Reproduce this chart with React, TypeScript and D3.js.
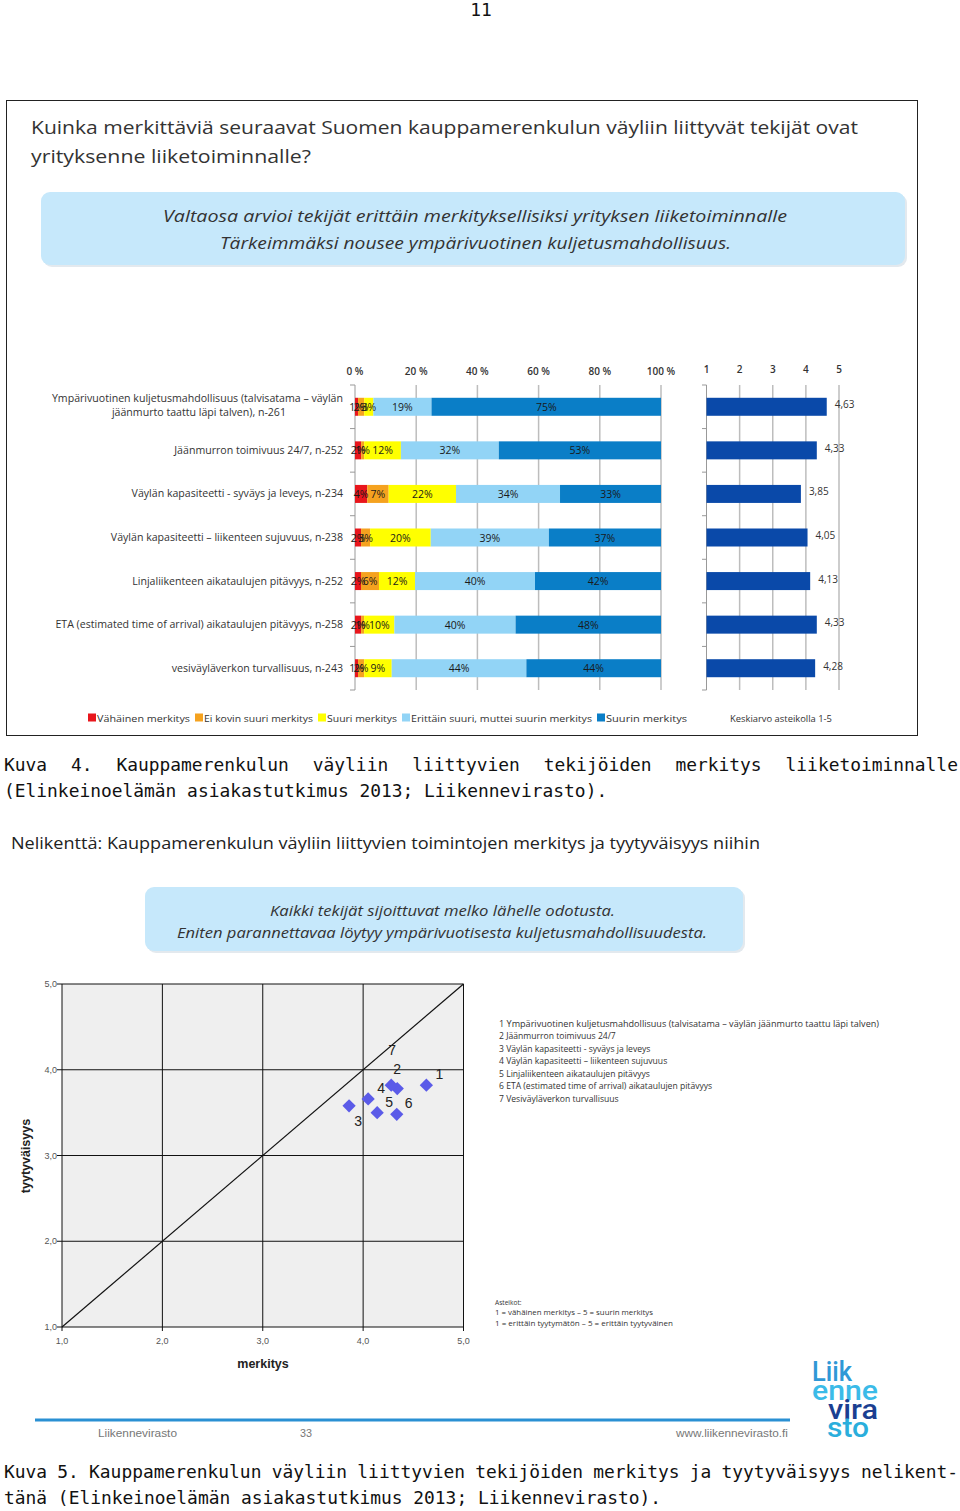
import React from 'react';
import * as d3 from 'd3';

// ---- data: chart 1 (stacked importance shares, %) ----
const factors = [
  'Ympärivuotinen kuljetusmahdollisuus (talvisatama – väylän|jäänmurto taattu läpi talven), n-261',
  'Jäänmurron toimivuus 24/7, n-252',
  'Väylän kapasiteetti - syväys ja leveys, n-234',
  'Väylän kapasiteetti – liikenteen sujuvuus, n-238',
  'Linjaliikenteen aikataulujen pitävyys, n-252',
  'ETA (estimated time of arrival) aikataulujen pitävyys, n-258',
  'vesiväyläverkon turvallisuus, n-243',
];
const vahainen = [1, 2, 4, 2, 2, 2, 1];
const eiKovin = [2, 1, 7, 3, 6, 1, 2];
const suuri = [3, 12, 22, 20, 12, 10, 9];
const erittain = [19, 32, 34, 39, 40, 40, 44];
const suurin = [75, 53, 33, 37, 42, 48, 44];
const keskiarvo = [4.63, 4.33, 3.85, 4.05, 4.13, 4.33, 4.28];

const seriesNames = [
  'Vähäinen merkitys',
  'Ei kovin suuri merkitys',
  'Suuri merkitys',
  'Erittäin suuri, muttei suurin merkitys',
  'Suurin merkitys',
];
const seriesColors = ['#e8161c', '#f5a21f', '#ffff00', '#92d4f6', '#0a7ec7'];
const pctTicks = [0, 20, 40, 60, 80, 100];
const meanTicks = [1, 2, 3, 4, 5];

// ---- data: chart 2 (scatter: importance vs satisfaction) ----
const pointIds = ['1', '2', '3', '4', '5', '6', '7'];
const merkitys = [4.63, 4.34, 3.86, 4.05, 4.14, 4.335, 4.28];
const tyytyvaisyys = [3.82, 3.78, 3.58, 3.66, 3.5, 3.48, 3.82];
const scatterTicks = [1, 2, 3, 4, 5];
const pointLegend = [
  '1 Ympärivuotinen kuljetusmahdollisuus  (talvisatama – väylän jäänmurto taattu läpi talven)',
  '2 Jäänmurron toimivuus 24/7',
  '3 Väylän kapasiteetti - syväys ja leveys',
  '4 Väylän kapasiteetti – liikenteen sujuvuus',
  '5 Linjaliikenteen aikataulujen pitävyys',
  '6 ETA (estimated time of arrival) aikataulujen pitävyys',
  '7 Vesiväyläverkon turvallisuus',
];
// label offsets (px) of the point numbers
const labelDx = [13, 0, 9, 13, 12, 12, 1];
const labelDy = [-6, -15, 20, -6, -6, -6, -30];

const SANS = '"Open Sans", "Noto Sans", sans-serif';
const MONO = '"DejaVu Sans Mono", monospace';

const MONO_SIZE = 17.9;
const MONO_ADV = MONO_SIZE * 0.602;

// justified monospace line: words spread across [x0, x1]
const Justified = ({ text, x0, x1, y }: { text: string; x0: number; x1: number; y: number }) => {
  const words = text.split(/\s+/);
  const chars = words.reduce((s, w) => s + w.length, 0);
  const gap = (x1 - x0 - chars * MONO_ADV) / (words.length - 1);
  let x = x0;
  return (
    <g>
      {words.map((w, i) => {
        const el = (
          <text key={i} x={x} y={y} fontFamily={MONO} fontSize={MONO_SIZE} fill="#111">
            {w}
          </text>
        );
        x += w.length * MONO_ADV + gap;
        return el;
      })}
    </g>
  );
};

const StackedChart = () => {
  const x = d3.scaleLinear().domain([0, 100]).range([355, 661]);
  const y = d3.scaleBand<number>().domain(d3.range(factors.length)).range([385, 690]);
  const xm = d3.scaleLinear().domain([1, 5]).range([706.5, 839]);
  const bh = 18;
  const rows = factors.map((_, i) => [vahainen[i], eiKovin[i], suuri[i], erittain[i], suurin[i]]);
  const legendX = [88, 195, 318, 402, 597];
  const legendW = [93, 109, 70, 181, 81];

  return (
    <g fontFamily={SANS}>
      {/* percent axis */}
      {pctTicks.map((t) => (
        <g key={t}>
          <text x={x(t)} y={375} textAnchor="middle" fontSize={10} fontWeight={600} fill="#333">
            {`${t} %`}
          </text>
          {t > 0 && <line x1={x(t)} x2={x(t)} y1={385} y2={690} stroke="#bdbdbd" strokeWidth={1.5} />}
        </g>
      ))}
      <line x1={355} x2={355} y1={385} y2={690} stroke="#999" />
      {d3.range(factors.length + 1).map((i) => {
        const yy = 385 + i * y.step();
        return <line key={i} x1={350} x2={355} y1={yy} y2={yy} stroke="#999" />;
      })}
      {/* bars */}
      {rows.map((vals, i) => {
        const total = d3.sum(vals);
        const cy = (y(i) as number) + y.bandwidth() / 2;
        const cum = d3.cumsum(vals);
        return (
          <g key={i}>
            {vals.map((v, k) => {
              const a = ((cum[k] - v) / total) * 100;
              const b = (cum[k] / total) * 100;
              return (
                <rect key={k} x={x(a)} y={cy - bh / 2} width={x(b) - x(a)} height={bh} fill={seriesColors[k]} />
              );
            })}
            {vals.map((v, k) => {
              const a = ((cum[k] - v) / total) * 100;
              const b = (cum[k] / total) * 100;
              return (
                <text key={k} x={x((a + b) / 2)} y={cy + 4} textAnchor="middle" fontSize={10.5} fill="#1a1a1a">
                  {`${v}%`}
                </text>
              );
            })}
            {factors[i].split('|').map((ln, j, arr) => (
              <text
                key={j}
                x={arr.length > 1 && j === 1 ? 286 : 343}
                y={cy + 3.5 + (j - (arr.length - 1) / 2) * 14 - (arr.length > 1 ? 1 : 0)}
                textAnchor="end"
                fontSize={10.6}
                fill="#333"
              >
                {ln}
              </text>
            ))}
          </g>
        );
      })}

      {/* mean axis */}
      {meanTicks.map((t) => (
        <g key={t}>
          <text x={xm(t)} y={373} textAnchor="middle" fontSize={10} fontWeight={600} fill="#333">
            {t}
          </text>
          {t > 1 && <line x1={xm(t)} x2={xm(t)} y1={385} y2={690} stroke="#bdbdbd" strokeWidth={1.5} />}
        </g>
      ))}
      <line x1={706.5} x2={706.5} y1={385} y2={690} stroke="#999" />
      {d3.range(factors.length + 1).map((i) => {
        const yy = 385 + i * y.step();
        return <line key={i} x1={702} x2={706.5} y1={yy} y2={yy} stroke="#999" />;
      })}
      {keskiarvo.map((m, i) => {
        const cy = (y(i) as number) + y.bandwidth() / 2;
        return (
          <g key={i}>
            <rect x={xm(1)} y={cy - bh / 2} width={xm(m) - xm(1)} height={bh} fill="#0a49a9" />
            <text x={xm(m) + 8} y={cy + 1.5} fontSize={10} fill="#333">
              {d3.format('.2f')(m).replace('.', ',')}
            </text>
          </g>
        );
      })}

      {/* legend */}
      {seriesNames.map((n, k) => (
        <g key={n}>
          <rect x={legendX[k]} y={713.5} width={8} height={8} fill={seriesColors[k]} />
          <text
            x={legendX[k] + 9}
            y={721.5}
            fontSize={9.6}
            fill="#333"
            textLength={legendW[k]}
            lengthAdjust="spacingAndGlyphs"
          >
            {n}
          </text>
        </g>
      ))}
      <text x={730} y={721.5} fontSize={9} fill="#333" textLength={102} lengthAdjust="spacingAndGlyphs">
        Keskiarvo asteikolla 1-5
      </text>
    </g>
  );
};

const Scatter = () => {
  const x = d3.scaleLinear().domain([1, 5]).range([62, 463.5]);
  const y = d3.scaleLinear().domain([1, 5]).range([1327, 984]);
  const fmt = (v: number) => d3.format('.1f')(v).replace('.', ',');
  const diamond = d3.symbol().type(d3.symbolSquare).size(88)();
  const diag = d3.line<number>()
    .x((d) => x(d))
    .y((d) => y(d))([1, 5]);

  return (
    <g fontFamily='"Liberation Sans", Arial, sans-serif'>
      <rect x={x(1)} y={y(5)} width={x(5) - x(1)} height={y(1) - y(5)} fill="#efefef" />
      {scatterTicks.map((t) => (
        <g key={t}>
          <line x1={x(t)} x2={x(t)} y1={y(5)} y2={y(1)} stroke="#111" strokeWidth={1} />
          <line x1={x(1)} x2={x(5)} y1={y(t)} y2={y(t)} stroke="#111" strokeWidth={1} />
          <line x1={x(1) - 5} x2={x(1)} y1={y(t)} y2={y(t)} stroke="#111" />
          <line x1={x(t)} x2={x(t)} y1={y(1)} y2={y(1) + 4} stroke="#111" />
          <text x={x(1) - 5} y={y(t) + 3} textAnchor="end" fontSize={9} fill="#555">
            {fmt(t)}
          </text>
          <text x={x(t)} y={y(1) + 17} textAnchor="middle" fontSize={9} fill="#555">
            {fmt(t)}
          </text>
        </g>
      ))}
      <path d={diag ?? ''} stroke="#111" strokeWidth={1.2} fill="none" />
      {pointIds.map((id, i) => (
        <g key={id}>
          <path
            d={diamond ?? ''}
            transform={`translate(${x(merkitys[i])},${y(tyytyvaisyys[i])}) rotate(45)`}
            fill="#5b5be8"
          />
          <text
            x={x(merkitys[i]) + labelDx[i]}
            y={y(tyytyvaisyys[i]) + labelDy[i]}
            textAnchor="middle"
            fontSize={14}
            fill="#222"
          >
            {id}
          </text>
        </g>
      ))}
      <text x={263} y={1368} textAnchor="middle" fontSize={12.5} fontWeight="bold" fill="#222">
        merkitys
      </text>
      <text
        transform="translate(30,1156) rotate(-90)"
        textAnchor="middle"
        fontSize={12.5}
        fontWeight="bold"
        fill="#222"
      >
        tyytyväisyys
      </text>

      <g fontFamily={SANS} fill="#333">
        {pointLegend.map((t, i) => (
          <text
            key={i}
            x={499}
            y={1027 + i * 12.45}
            fontSize={8.6}
            textLength={i === 0 ? 380 : undefined}
            lengthAdjust="spacingAndGlyphs"
          >
            {t}
          </text>
        ))}
        <text x={495} y={1305} fontSize={6.6}>Asteikot:</text>
        <text x={495} y={1315} fontSize={6.6} textLength={158} lengthAdjust="spacingAndGlyphs">
          1 = vähäinen merkitys – 5 = suurin merkitys
        </text>
        <text x={495} y={1326} fontSize={6.6} textLength={178} lengthAdjust="spacingAndGlyphs">
          1 = erittäin tyytymätön – 5 = erittäin tyytyväinen
        </text>
      </g>
    </g>
  );
};

const App = () => {
  return (
    <svg
      width={960}
      height={1511}
      style={{ position: 'absolute', left: 0, top: 0, background: '#fff' }}
    >
      <rect width={960} height={1511} fill="#fff" />
      <text x={481} y={16} textAnchor="middle" fontFamily={MONO} fontSize={MONO_SIZE} fill="#111">
        11
      </text>

      {/* figure 4 */}
      <rect x={6.5} y={100.5} width={911} height={635} fill="#fff" stroke="#222" strokeWidth={1} />
      <g fontFamily={SANS} fill="#333">
        <text x={31} y={134} fontSize={19} textLength={827} lengthAdjust="spacingAndGlyphs">
          Kuinka merkittäviä seuraavat Suomen kauppamerenkulun väyliin liittyvät tekijät ovat
        </text>
        <text x={31} y={163} fontSize={19} textLength={280} lengthAdjust="spacingAndGlyphs">
          yrityksenne liiketoiminnalle?
        </text>
      </g>
      <rect x={43} y={194} width={864} height={73} rx={9} fill="#e3e9ee" />
      <rect x={41} y={192} width={864} height={73} rx={9} fill="#c6e8fb" />
      <g fontFamily={SANS} fill="#333" fontStyle="italic">
        <text x={163} y={222} fontSize={17} textLength={624} lengthAdjust="spacingAndGlyphs">
          Valtaosa arvioi tekijät erittäin merkityksellisiksi yrityksen liiketoiminnalle
        </text>
        <text x={220} y={249} fontSize={17} textLength={511} lengthAdjust="spacingAndGlyphs">
          Tärkeimmäksi nousee ympärivuotinen kuljetusmahdollisuus.
        </text>
      </g>
      <StackedChart />

      <Justified
        text="Kuva 4. Kauppamerenkulun väyliin liittyvien tekijöiden merkitys liiketoiminnalle"
        x0={4}
        x1={958}
        y={771}
      />
      <text x={4} y={797} fontFamily={MONO} fontSize={MONO_SIZE} fill="#111">
        (Elinkeinoelämän asiakastutkimus 2013; Liikennevirasto).
      </text>

      {/* figure 5 */}
      <text x={11} y={849} fontFamily={SANS} fontSize={17} fill="#222" textLength={749} lengthAdjust="spacingAndGlyphs">
        Nelikenttä: Kauppamerenkulun väyliin liittyvien toimintojen merkitys ja tyytyväisyys niihin
      </text>
      <rect x={147} y={889} width={598} height={64} rx={9} fill="#e3e9ee" />
      <rect x={145} y={887} width={598} height={64} rx={9} fill="#c6e8fb" />
      <g fontFamily={SANS} fill="#333" fontStyle="italic">
        <text x={270} y={916} fontSize={15} textLength={345} lengthAdjust="spacingAndGlyphs">
          Kaikki tekijät sijoittuvat melko lähelle odotusta.
        </text>
        <text x={177} y={938} fontSize={15} textLength={530} lengthAdjust="spacingAndGlyphs">
          Eniten parannettavaa löytyy ympärivuotisesta kuljetusmahdollisuudesta.
        </text>
      </g>
      <Scatter />

      {/* footer */}
      <line x1={35} x2={790} y1={1420} y2={1420} stroke="#2a90d3" strokeWidth={3} />
      <g fontFamily='"Liberation Sans", Arial, sans-serif' fill="#777" fontSize={11}>
        <text x={98} y={1437} textLength={79} lengthAdjust="spacingAndGlyphs">Liikennevirasto</text>
        <text x={300} y={1437} textLength={12} lengthAdjust="spacingAndGlyphs">33</text>
        <text x={676} y={1437} textLength={112} lengthAdjust="spacingAndGlyphs">www.liikennevirasto.fi</text>
      </g>
      <g fontFamily="Roboto, sans-serif" fontWeight={500} fontSize={27}>
        <text x={812} y={1381} fill="#2f98d6" textLength={40} lengthAdjust="spacingAndGlyphs">Liik</text>
        <text x={812} y={1400} fill="#3bbbe8" textLength={66} lengthAdjust="spacingAndGlyphs">enne</text>
        <text x={828} y={1419} fill="#1b3f91" textLength={50} lengthAdjust="spacingAndGlyphs">vira</text>
        <text x={827} y={1437} fill="#2aaedc" textLength={42} lengthAdjust="spacingAndGlyphs">sto</text>
      </g>

      <Justified
        text="Kuva 5. Kauppamerenkulun väyliin liittyvien tekijöiden merkitys ja tyytyväisyys nelikent-"
        x0={4}
        x1={958}
        y={1478}
      />
      <text x={4} y={1504} fontFamily={MONO} fontSize={MONO_SIZE} fill="#111">
        tänä (Elinkeinoelämän asiakastutkimus 2013; Liikennevirasto).
      </text>
    </svg>
  );
};

export default App;
